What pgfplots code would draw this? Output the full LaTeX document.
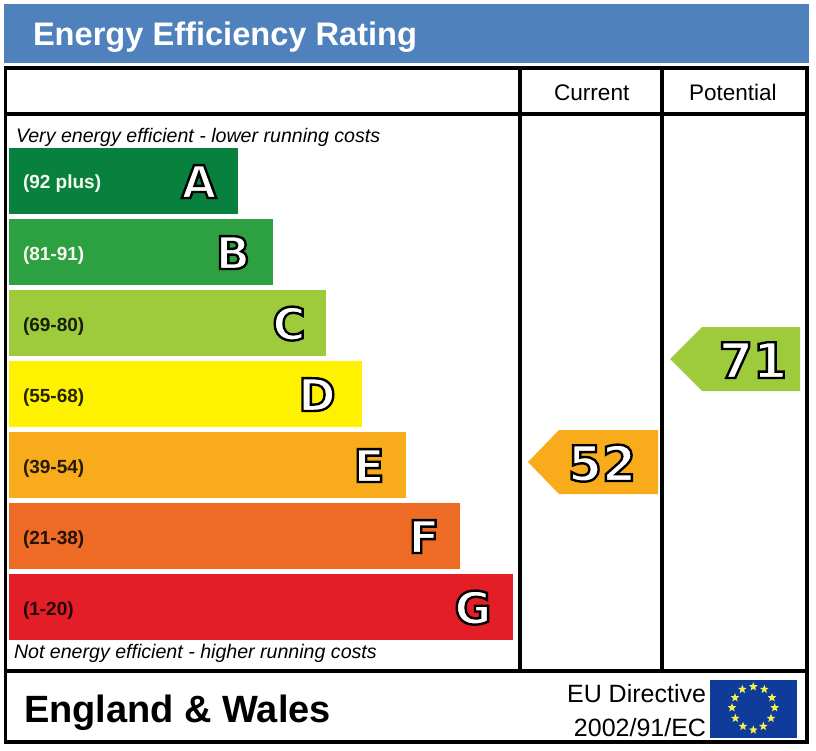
\documentclass[border=0pt]{standalone}
\usepackage{pgfplots}
\pgfplotsset{compat=1.18}
\usepackage{fontspec}
\setmainfont{Liberation Sans}
\newfontfamily\letterfont{DejaVu Sans}[BoldFont={DejaVu Sans Bold}]
\definecolor{hdr}{HTML}{4F81BD}
\definecolor{cA}{HTML}{08803E}
\definecolor{cB}{HTML}{2DA041}
\definecolor{cC}{HTML}{9ECB3C}
\definecolor{cD}{HTML}{FFF200}
\definecolor{cE}{HTML}{F8AC1C}
\definecolor{cF}{HTML}{EE6B25}
\definecolor{cG}{HTML}{E31E27}
\definecolor{flag}{HTML}{0F3C9B}
\definecolor{stary}{HTML}{F4F04E}
\newcommand\fs[1]{\fontsize{#1bp}{#1bp}\selectfont}
\newcommand\outl[2]{{\fs{#1}\letterfont\bfseries\color{white}\special{pdf:code 2 Tr 2.4 w 0 G}#2\special{pdf:code 0 Tr}}}
\pgfdeclareplotmark{solidstar}{%
  \pgfpathmoveto{\pgfqpointpolar{90}{1\pgfplotmarksize}}%
  \pgfpathlineto{\pgfqpointpolar{126}{0.42\pgfplotmarksize}}%
  \pgfpathlineto{\pgfqpointpolar{162}{1\pgfplotmarksize}}%
  \pgfpathlineto{\pgfqpointpolar{198}{0.42\pgfplotmarksize}}%
  \pgfpathlineto{\pgfqpointpolar{234}{1\pgfplotmarksize}}%
  \pgfpathlineto{\pgfqpointpolar{270}{0.42\pgfplotmarksize}}%
  \pgfpathlineto{\pgfqpointpolar{306}{1\pgfplotmarksize}}%
  \pgfpathlineto{\pgfqpointpolar{342}{0.42\pgfplotmarksize}}%
  \pgfpathlineto{\pgfqpointpolar{18}{1\pgfplotmarksize}}%
  \pgfpathlineto{\pgfqpointpolar{54}{0.42\pgfplotmarksize}}%
  \pgfpathclose\pgfusepathqfill}
\begin{document}
\begin{tikzpicture}
\begin{axis}[
  scale only axis, width=816bp, height=751bp,
  xmin=0, xmax=816, ymin=0, ymax=751, y dir=reverse,
  axis lines=none, clip=false,
]
\path (axis cs:0,0) rectangle (axis cs:816,751);
% header
\addplot[fill=hdr,draw=none] coordinates {(4,4)(809,4)(809,63)(4,63)} -- cycle;
% bars
\addplot[fill=cA,draw=none] coordinates {(9,148)(238,148)(238,214)(9,214)} -- cycle;
\addplot[fill=cB,draw=none] coordinates {(9,219)(273,219)(273,285)(9,285)} -- cycle;
\addplot[fill=cC,draw=none] coordinates {(9,290)(326,290)(326,356)(9,356)} -- cycle;
\addplot[fill=cD,draw=none] coordinates {(9,361)(362,361)(362,427)(9,427)} -- cycle;
\addplot[fill=cE,draw=none] coordinates {(9,432)(406,432)(406,498)(9,498)} -- cycle;
\addplot[fill=cF,draw=none] coordinates {(9,503)(460,503)(460,569)(9,569)} -- cycle;
\addplot[fill=cG,draw=none] coordinates {(9,574)(513,574)(513,640)(9,640)} -- cycle;
% arrows
\addplot[fill=cE,draw=none] coordinates {(528,462)(559,430)(658,430)(658,494)(559,494)} -- cycle;
\addplot[fill=cC,draw=none] coordinates {(670,359)(702,327)(800,327)(800,391)(702,391)} -- cycle;
% flag
\addplot[fill=flag,draw=none] coordinates {(710,680)(797,680)(797,738)(710,738)} -- cycle;
\addplot[only marks, mark=solidstar, mark size=4.6bp, color=stary] coordinates {
(753.3,686.7)(764.3,689.3)(772,697.7)(774.7,707.7)(771,718.3)(763.3,726.3)
(753.3,730)(743,726.3)(735.3,718.3)(732,707.7)(735,697.7)(742.3,689.3)};
% frame
\draw[black,line width=3.6bp] (axis cs:5.5,68) rectangle (axis cs:807,742);
\draw[black,line width=3.6bp] (axis cs:5.5,114) -- (axis cs:807,114);
\draw[black,line width=3.6bp] (axis cs:5.5,671) -- (axis cs:807,671);
\draw[black,line width=3.6bp] (axis cs:520,68) -- (axis cs:520,671);
\draw[black,line width=3.6bp] (axis cs:662,68) -- (axis cs:662,671);
% text
\tikzset{t/.style={inner sep=0pt,outer sep=0pt,anchor=base west}}
\node[t,text=white] at (axis cs:33,46) {\fs{32.6}\bfseries Energy Efficiency Rating};
\node[t] at (axis cs:554,101) {\fs{22.6}Current};
\node[t] at (axis cs:689,101) {\fs{22.5}Potential};
\node[t] at (axis cs:16,143) {\fs{19.6}\itshape Very energy efficient - lower running costs};
\node[t] at (axis cs:14,658) {\fs{19.6}\itshape Not energy efficient - higher running costs};
\node[t] at (axis cs:24,722) {\fs{38}\bfseries England \& Wales};
\node[t,anchor=base east] at (axis cs:706,702) {\fs{25}EU Directive};
\node[t,anchor=base east] at (axis cs:706,736) {\fs{25}2002/91/EC};
\node[t,text=white!92!cC] at (axis cs:23,189) {\fs{19}\bfseries (92 plus)};
\node[t,text=white!92!cC] at (axis cs:23,260) {\fs{19}\bfseries (81-91)};
\node[t,text=black!85!cC] at (axis cs:23,331) {\fs{19}\bfseries (69-80)};
\node[t,text=black!85!cD] at (axis cs:23,402) {\fs{19}\bfseries (55-68)};
\node[t,text=black!85!cE] at (axis cs:23,473) {\fs{19}\bfseries (39-54)};
\node[t,text=black!85!cF] at (axis cs:23,544) {\fs{19}\bfseries (21-38)};
\node[t,text=black!85!cG] at (axis cs:23,615) {\fs{19}\bfseries (1-20)};
\tikzset{l/.style={inner sep=0pt,outer sep=0pt,anchor=base}}
\node[l] at (axis cs:199,198) {\outl{45}{A}};
\node[l] at (axis cs:233,269) {\outl{45}{B}};
\node[l] at (axis cs:289,340) {\outl{45}{C}};
\node[l] at (axis cs:317,411) {\outl{45}{D}};
\node[l] at (axis cs:369,482) {\outl{45}{E}};
\node[l] at (axis cs:424,553) {\outl{45}{F}};
\node[l] at (axis cs:473,624) {\outl{45}{G}};
\node[l] at (axis cs:602,481) {\outl{49}{52}};
\node[l] at (axis cs:753,378) {\outl{49}{71}};
\end{axis}
\end{tikzpicture}
\end{document}
